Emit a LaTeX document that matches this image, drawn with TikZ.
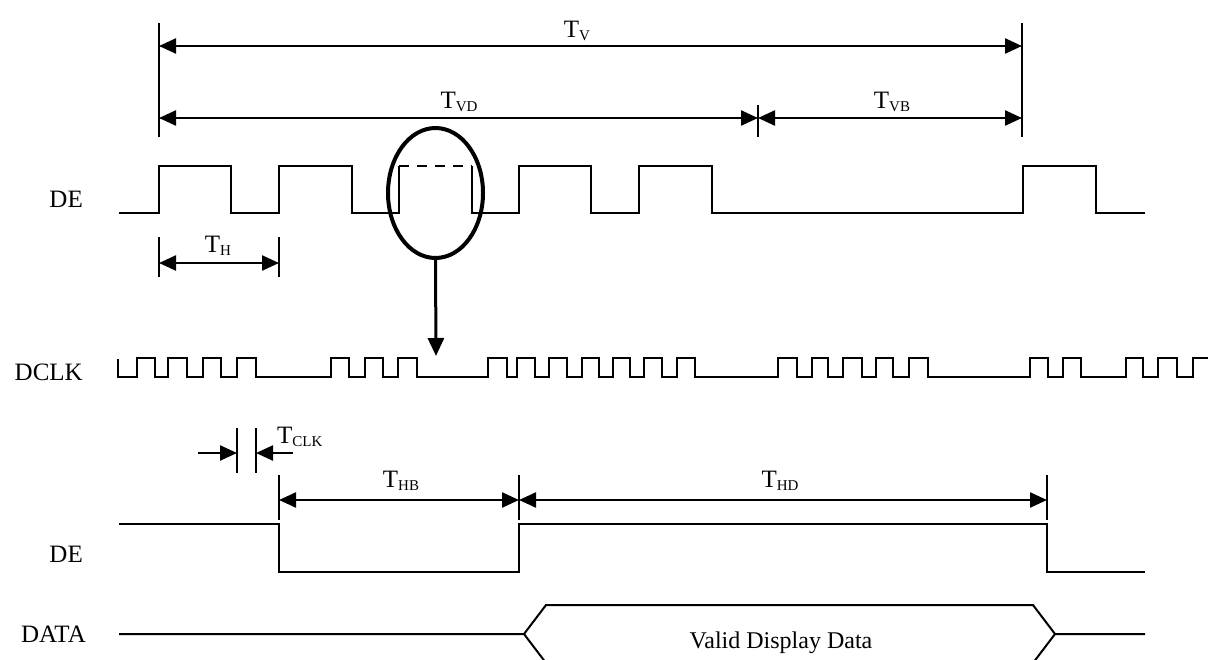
\documentclass[tikz,border=0pt]{standalone}
\usepackage{fontspec}
\setmainfont{Liberation Serif}
\usetikzlibrary{arrows.meta,shapes.geometric}
\newcommand{\Tsub}[1]{T\raisebox{-3pt}{\fontsize{15}{15}\selectfont #1}}
\begin{document}
\begin{tikzpicture}[x=1pt,y=-1pt,
  wave/.style={line width=2pt, line join=miter},
  extl/.style={line width=1.4pt},
  dimar/.style={line width=2.4pt, {Triangle[length=17pt,width=15pt]}-{Triangle[length=17pt,width=15pt]}},
  onear/.style={line width=2.4pt, -{Triangle[length=17pt,width=15pt]}},
  sig/.style={font=\fontsize{25}{28}\selectfont, anchor=base east, inner sep=0pt},
  tl/.style={font=\fontsize{25}{28}\selectfont, anchor=base, inner sep=0pt}]
\useasboundingbox (0,0) rectangle (1210,659);
\clip (0,0) rectangle (1210,659);
% signal names
\node[sig] (deA) at (83,207) {DE};
\node[sig] (dclk) at (83,380) {DCLK};
\node[sig] (deB) at (83,562) {DE};
\node[sig] (data) at (86,642) {DATA};
% top DE waveform
\draw[wave] (119,213) -- (159,213) -- (159,166) -- (231,166) -- (231,213) -- (279,213) -- (279,166) -- (352,166) -- (352,213) -- (399,213) -- (399,166);
\draw[wave, dash pattern=on 10pt off 8pt] (399,166) -- (472,166);
\draw[wave] (472,166) -- (472,213) -- (519,213) -- (519,166) -- (591,166) -- (591,213) -- (639,213) -- (639,166) -- (712,166) -- (712,213) -- (1023,213) -- (1023,166) -- (1096,166) -- (1096,213) -- (1145,213);
% top dimensions
\coordinate (vL1) at (159,23); \coordinate (vL2) at (159,137);
\coordinate (vR1) at (1022,23); \coordinate (vR2) at (1022,137);
\coordinate (vM1) at (758,105); \coordinate (vM2) at (758,137);
\draw[extl] (vL1) -- (vL2);
\draw[extl] (vR1) -- (vR2);
\draw[extl] (vM1) -- (vM2);
\coordinate (tvA) at (159,46); \coordinate (tvB) at (1022,46);
\coordinate (tvdA) at (159,118); \coordinate (tvdB) at (758,118); \coordinate (tvbB) at (1022,118);
\draw[dimar] (tvA) -- (tvB);
\draw[dimar] (tvdA) -- (tvdB);
\draw[dimar] (tvdB) -- (tvbB);
\node[tl] (TV) at (577,37) {\Tsub{V}};
\node[tl] (TVD) at (459,108) {\Tsub{VD}};
\node[tl] (TVB) at (892,108) {\Tsub{VB}};
% TH
\coordinate (th1a) at (159,237); \coordinate (th1b) at (159,277);
\coordinate (th2a) at (279,237); \coordinate (th2b) at (279,277);
\draw[extl] (th1a) -- (th1b);
\draw[extl] (th2a) -- (th2b);
\coordinate (thA) at (159,263); \coordinate (thB) at (279,263);
\draw[dimar] (thA) -- (thB);
\node[tl] (TH) at (218,252) {\Tsub{H}};
% oval and arrow
\node[draw, line width=4pt, ellipse, minimum width=95pt, minimum height=130pt, inner sep=0pt] (oval) at (435.5,193) {};
\coordinate (arrTip) at (436,356);
\draw[line width=3pt, -{Triangle[length=18pt,width=16pt]}] (oval.south) -- (arrTip);
% DCLK
\draw[wave] (118,359) -- (118,377)
  foreach \a/\b in {137/155,168/187,203/221,237/256,331/349,365/383,398/417,488/507,517/535,549/567,582/599,613/630,644/662,677/695,778/797,812/828,843/862,876/893,909/928,1030/1048,1063/1081,1126/1143,1158/1177}
  { -- (\a,377) -- (\a,358) -- (\b,358) -- (\b,377) }
  -- (1193,377) -- (1193,358) -- (1208,358);
% TCLK
\coordinate (tc1a) at (237,428); \coordinate (tc1b) at (237,473);
\coordinate (tc2a) at (256,428); \coordinate (tc2b) at (256,473);
\draw[extl] (tc1a) -- (tc1b);
\draw[extl] (tc2a) -- (tc2b);
\coordinate (tcL) at (198,453); \coordinate (tcLe) at (237,453);
\coordinate (tcR) at (293,453); \coordinate (tcRe) at (256,453);
\draw[onear] (tcL) -- (tcLe);
\draw[onear] (tcR) -- (tcRe);
\node[tl, anchor=base west] (TCLK) at (277,443) {\Tsub{CLK}};
% THB / THD
\coordinate (hb1a) at (279,475); \coordinate (hb1b) at (279,520);
\coordinate (hb2a) at (519,475); \coordinate (hb2b) at (519,520);
\coordinate (hb3a) at (1047,475); \coordinate (hb3b) at (1047,520);
\draw[extl] (hb1a) -- (hb1b);
\draw[extl] (hb2a) -- (hb2b);
\draw[extl] (hb3a) -- (hb3b);
\coordinate (hbA) at (279,500); \coordinate (hbB) at (519,500); \coordinate (hdB) at (1047,500);
\draw[dimar] (hbA) -- (hbB);
\draw[dimar] (hbB) -- (hdB);
\node[tl] (THB) at (401,487) {\Tsub{HB}};
\node[tl] (THD) at (780,487) {\Tsub{HD}};
% bottom DE
\draw[wave] (119,524) -- (279,524) -- (279,572) -- (519,572) -- (519,524) -- (1047,524) -- (1047,572) -- (1145,572);
% DATA
\draw[wave] (119,634) -- (524,634) -- (546,605) -- (1033,605) -- (1055,634) -- (1145,634);
\draw[wave] (524,634) -- (546,663);
\draw[wave] (1055,634) -- (1033,663);
\node[tl, font=\fontsize{24}{28}\selectfont] (vdd) at (781,648) {Valid Display Data};
\end{tikzpicture}
\end{document}
